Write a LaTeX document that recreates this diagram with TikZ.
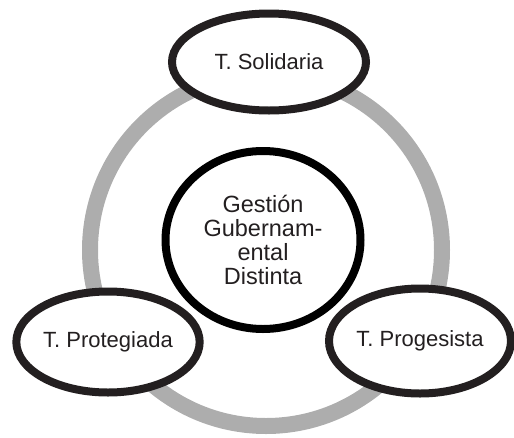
\documentclass[tikz,border=0pt]{standalone}
\usepackage{fontspec}
\setmainfont{Liberation Sans}
\usetikzlibrary{shapes.geometric}
\definecolor{ringgray}{HTML}{ADADAD}
\definecolor{inkblack}{HTML}{231F20}
\def\dring{\draw[ringgray,line width=16pt]}

\begin{document}
\begin{tikzpicture}[x=1pt,y=-1pt,
    oval/.style={ellipse,draw=inkblack,line width=8pt,fill=white,inner sep=0pt,
                 text=inkblack,font=\fontsize{22}{24}\selectfont},
    core/.style={ellipse,draw=black,line width=8pt,inner sep=0pt,align=center,
                 text=inkblack,font=\fontsize{23.5}{24.3}\selectfont,
                 execute at begin node={\baselineskip=24.3pt}}]
    \useasboundingbox (0,0) rectangle (514,437);
    \dring (266,250) circle (176pt);
    \node[oval,minimum width=194pt,minimum height=97pt]  (sol) at (269,62)  {\raisebox{-5pt}{T. Solidaria}};
    \node[oval,minimum width=183pt,minimum height=101pt] (pro) at (108,342) {T. Protegiada};
    \node[oval,minimum width=182pt,minimum height=105pt] (prg) at (420,341) {T. Progesista};
    \node[core,minimum width=195pt,minimum height=178pt] (ges) at (263,240)
        {Gestión\\Gubernam-\\ental\\Distinta};
\end{tikzpicture}
\end{document}
